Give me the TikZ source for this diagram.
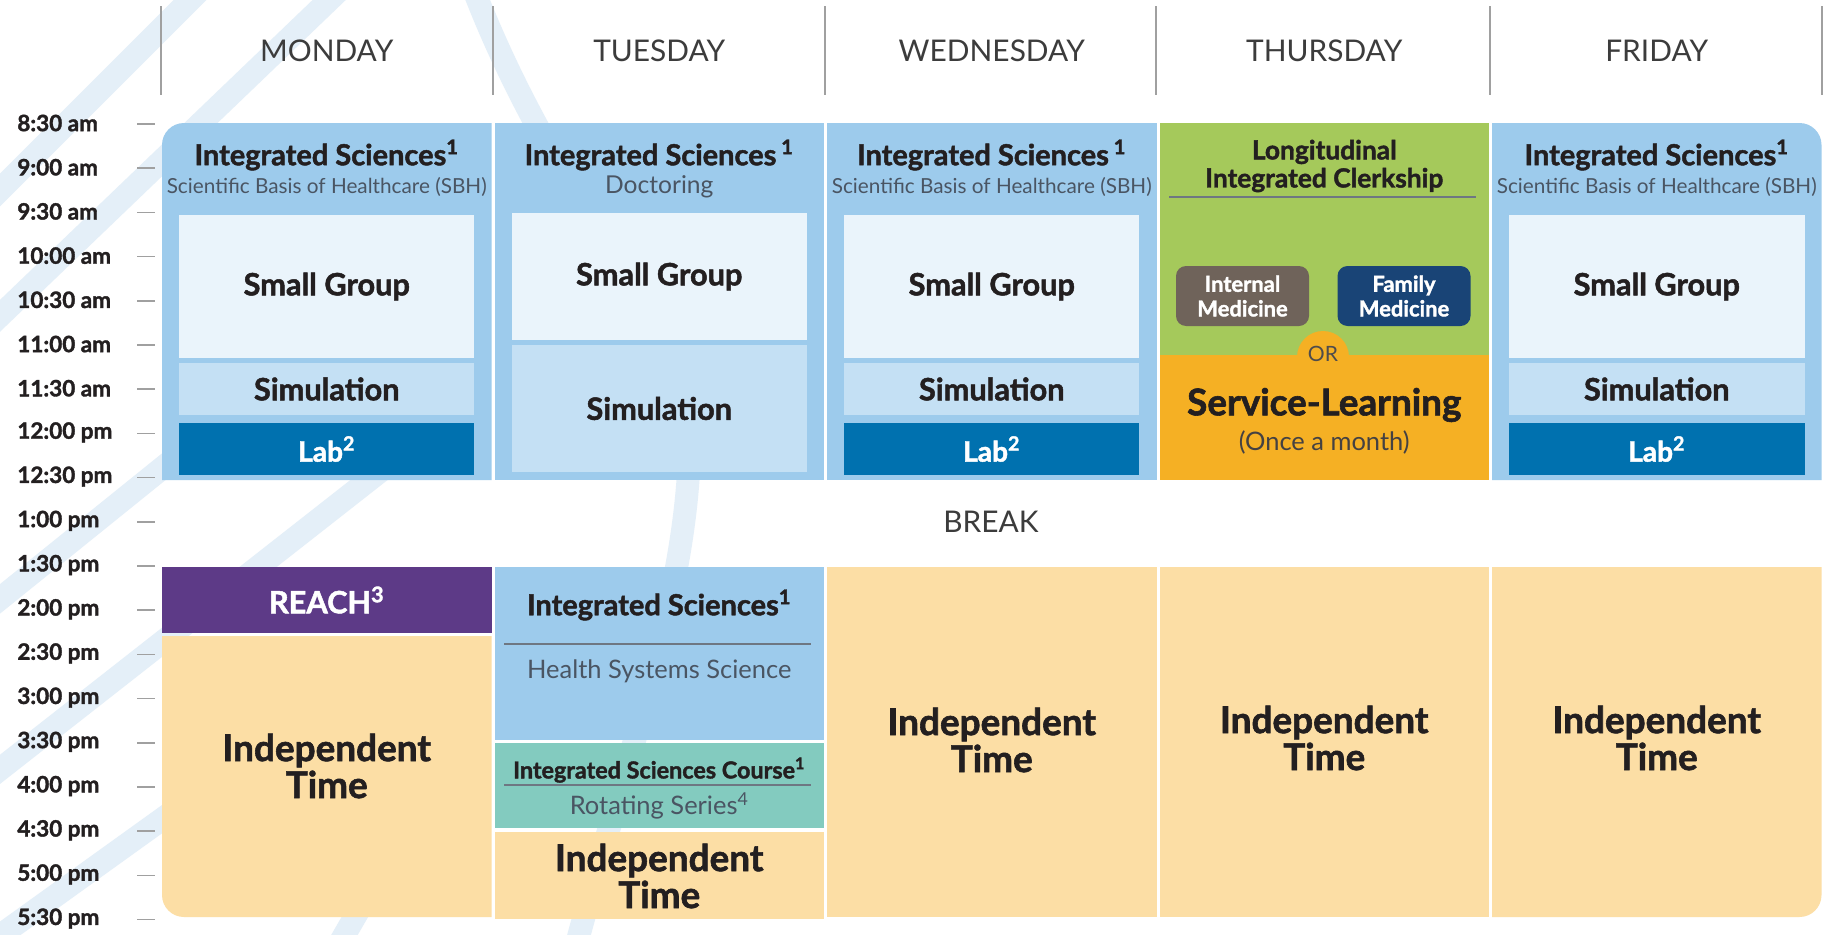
\documentclass[tikz,border=0pt]{standalone}
\usepackage{fontspec}
\setmainfont{Lato}[BoldFeatures={FakeBold=1.6}]
\usepackage{xcolor}
\usetikzlibrary{positioning}

\definecolor{sbhblue}{HTML}{9DCBEC}
\definecolor{groupblue}{HTML}{EAF4FB}
\definecolor{simblue}{HTML}{C4E0F4}
\definecolor{labblue}{HTML}{0071AF}
\definecolor{licgreen}{HTML}{A5C95B}
\definecolor{serviceorange}{HTML}{F5B024}
\definecolor{imgray}{HTML}{6F635A}
\definecolor{fmnavy}{HTML}{194476}
\definecolor{reachpurple}{HTML}{5D3A87}
\definecolor{indepbeige}{HTML}{FCDEA5}
\definecolor{courseteal}{HTML}{83CBBF}
\definecolor{inkdark}{HTML}{231F20}
\definecolor{subgray}{HTML}{4A5563}
\definecolor{daygray}{HTML}{3C3C3C}
\definecolor{tickgray}{HTML}{A0A0A0}
\definecolor{swoosh}{HTML}{E4EFF8}

\begin{document}
\begin{tikzpicture}[x=0.02cm, y=-0.02cm]
    \tikzstyle{daylabel}=[font=\fontsize{17}{20}\selectfont, text=daygray]
    \tikzstyle{dayline}=[line width=0.9pt, draw=tickgray]
    \tikzstyle{timelabel}=[anchor=west, inner sep=0, font=\bfseries\fontsize{12.8}{14}\selectfont, text=inkdark]
    \tikzstyle{tick}=[line width=0.9pt, draw=tickgray]
    \tikzstyle{swooshline}=[line width=0.46cm, draw=swoosh]
    \tikzstyle{coursetitle}=[inner sep=0, font=\bfseries\fontsize{16.5}{19}\selectfont, text=inkdark]
    \tikzstyle{coursesub}=[inner sep=0, font=\fontsize{11.8}{13}\selectfont, text=subgray]
    \tikzstyle{slotbox}=[
      inner sep=0,
      minimum width=5.91cm,
      font=\bfseries\fontsize{17.5}{20}\selectfont,
      text=inkdark,
    ]
    \tikzstyle{groupbox}=[slotbox, fill=groupblue, minimum height=2.86cm]
    \tikzstyle{simbox}=[slotbox, fill=simblue, minimum height=1.04cm]
    \tikzstyle{labbox}=[slotbox, fill=labblue, minimum height=1.04cm, text=white, font=\bfseries\fontsize{16}{18}\selectfont]
    \tikzstyle{clerkbox}=[
      inner sep=0,
      rounded corners=0.2cm,
      minimum width=2.66cm,
      minimum height=1.2cm,
      align=center,
      text=white,
      font=\bfseries\fontsize{12.5}{14}\selectfont,
    ]
    \tikzstyle{indeptext}=[inner sep=0, align=center, font=\bfseries\fontsize{21}{21}\selectfont, text=inkdark]
    \tikzstyle{rule}=[line width=1.2pt, draw=subgray!80]

    \useasboundingbox (0,0) rectangle (1824,934);
    \fill[white] (0,0) rectangle (1824,934);

    % background swooshes
    {
      \draw[swooshline] (-20,210) -- (210,-20);
      \draw[swooshline] (-20,335) -- (350,-20);
      \draw[swooshline] (-20,615) -- (420,260);
      \draw[swooshline] (-20,785) -- (420,440);
      \draw[swooshline] (-20,950) -- (300,720);
      \draw[swooshline] (330,960) -- (480,700);
      \draw[swooshline] (470,-20) .. controls (560,220) and (700,330) .. (688,480) .. controls (678,620) and (620,780) .. (575,950);
    }

    % day headers
    {
      \draw[dayline] (161,6) -- (161,95);
      \draw[dayline] (493,6) -- (493,95);
      \draw[dayline] (825,6) -- (825,95);
      \draw[dayline] (1156,6) -- (1156,95);
      \draw[dayline] (1490,6) -- (1490,95);
      \draw[dayline] (1822,6) -- (1822,95);

      \node[daylabel] (mon) at (326.75,51) {MONDAY};
      \node[daylabel] (tue) at (659.25,51) {TUESDAY};
      \node[daylabel] (wed) at (991.75,51) {WEDNESDAY};
      \node[daylabel] (thu) at (1324.25,51) {THURSDAY};
      \node[daylabel] (fri) at (1656.75,51) {FRIDAY};
    }

    % time axis
    {
      \node[timelabel] (t0830) at (17,123.0) {8:30 am};
      \node[timelabel] (t0900) at (17,167.2) {9:00 am};
      \node[timelabel] (t0930) at (17,211.4) {9:30 am};
      \node[timelabel] (t1000) at (17,255.6) {10:00 am};
      \node[timelabel] (t1030) at (17,299.8) {10:30 am};
      \node[timelabel] (t1100) at (17,344.0) {11:00 am};
      \node[timelabel] (t1130) at (17,388.2) {11:30 am};
      \node[timelabel] (t1200) at (17,432.4) {12:00 pm};
      \node[timelabel] (t1230) at (17,476.6) {12:30 pm};
      \node[timelabel] (t1300) at (17,520.8) {1:00 pm};
      \node[timelabel] (t1330) at (17,565.0) {1:30 pm};
      \node[timelabel] (t1400) at (17,609.2) {2:00 pm};
      \node[timelabel] (t1430) at (17,653.4) {2:30 pm};
      \node[timelabel] (t1500) at (17,697.6) {3:00 pm};
      \node[timelabel] (t1530) at (17,741.8) {3:30 pm};
      \node[timelabel] (t1600) at (17,786.0) {4:00 pm};
      \node[timelabel] (t1630) at (17,830.2) {4:30 pm};
      \node[timelabel] (t1700) at (17,874.4) {5:00 pm};
      \node[timelabel] (t1730) at (17,918.6) {5:30 pm};

      \draw[tick] (137,124.0) -- (155,124.0);
      \draw[tick] (137,168.2) -- (155,168.2);
      \draw[tick] (137,212.4) -- (155,212.4);
      \draw[tick] (137,256.6) -- (155,256.6);
      \draw[tick] (137,300.8) -- (155,300.8);
      \draw[tick] (137,345.0) -- (155,345.0);
      \draw[tick] (137,389.2) -- (155,389.2);
      \draw[tick] (137,433.4) -- (155,433.4);
      \draw[tick] (137,477.6) -- (155,477.6);
      \draw[tick] (137,521.8) -- (155,521.8);
      \draw[tick] (137,566.0) -- (155,566.0);
      \draw[tick] (137,610.2) -- (155,610.2);
      \draw[tick] (137,654.4) -- (155,654.4);
      \draw[tick] (137,698.6) -- (155,698.6);
      \draw[tick] (137,742.8) -- (155,742.8);
      \draw[tick] (137,787.0) -- (155,787.0);
      \draw[tick] (137,831.2) -- (155,831.2);
      \draw[tick] (137,875.4) -- (155,875.4);
      \draw[tick] (137,919.6) -- (155,919.6);
    }

    % monday morning
    {
      \fill[sbhblue] (162,480) -- (162,145) arc[start angle=180, end angle=270, radius=22] -- (491.5,123) -- (491.5,480) -- cycle;
      \node[coursetitle] (monTitle) at (326.75,155) {Integrated Sciences\textsuperscript{1}};
      \node[coursesub] (monSub) at (326.75,187) {Scientific Basis of Healthcare (SBH)};
      \node[groupbox] (monGroup) at (326.75,286.5) {Small Group};
      \node[simbox] (monSim) at (326.75,389) {Simulation};
      \node[labbox] (monLab) at (326.75,449) {Lab\textsuperscript{2}};
    }

    % tuesday morning
    {
      \fill[sbhblue] (494.5,123) rectangle (824,480);
      \node[coursetitle] (tueTitle) at (659.25,155) {Integrated Sciences\,\textsuperscript{1}};
      \node[coursesub, font=\fontsize{14}{16}\selectfont] (tueSub) at (659.25,187) {Doctoring};
      \node[groupbox, minimum height=2.54cm] (tueGroup) at (659.25,276.5) {Small Group};
      \node[simbox, minimum height=2.54cm] (tueSim) at (659.25,408.5) {Simulation};
    }

    % wednesday morning
    {
      \fill[sbhblue] (827,123) rectangle (1156.5,480);
      \node[coursetitle] (wedTitle) at (991.75,155) {Integrated Sciences\,\textsuperscript{1}};
      \node[coursesub] (wedSub) at (991.75,187) {Scientific Basis of Healthcare (SBH)};
      \node[groupbox] (wedGroup) at (991.75,286.5) {Small Group};
      \node[simbox] (wedSim) at (991.75,389) {Simulation};
      \node[labbox] (wedLab) at (991.75,449) {Lab\textsuperscript{2}};
    }

    % thursday morning
    {
      \fill[licgreen] (1159.5,123) rectangle (1489,355);
      \fill[serviceorange] (1159.5,355) rectangle (1489,480);
      \fill[serviceorange] (1323,357) circle[radius=26];
      \node[inner sep=0, align=center, font=\bfseries\fontsize{15}{16}\selectfont, text=inkdark] (licTitle) at (1324.25,166) {Longitudinal\\Integrated Clerkship};
      \draw[rule] (1169,197) -- (1476,197);
      \node[clerkbox, fill=imgray] (licIM) at (1242.5,296) {Internal\\Medicine};
      \node[clerkbox, fill=fmnavy] (licFM) at (1404,296) {Family\\Medicine};
      \node[inner sep=0, font=\fontsize{12}{13}\selectfont, text=inkdark!80] (licOr) at (1323,354) {OR};
      \node[inner sep=0, font=\bfseries\fontsize{21}{23}\selectfont, text=inkdark] (service) at (1324.25,405) {Service-Learning};
      \node[inner sep=0, font=\fontsize{14.5}{16}\selectfont, text=inkdark!85] (serviceNote) at (1324.25,442) {(Once a month)};
    }

    % friday morning
    {
      \fill[sbhblue] (1492,480) -- (1492,123) -- (1799.5,123) arc[start angle=270, end angle=360, radius=22] -- (1821.5,480) -- cycle;
      \node[coursetitle] (friTitle) at (1656.75,155) {Integrated Sciences\textsuperscript{1}};
      \node[coursesub] (friSub) at (1656.75,187) {Scientific Basis of Healthcare (SBH)};
      \node[groupbox] (friGroup) at (1656.75,286.5) {Small Group};
      \node[simbox] (friSim) at (1656.75,389) {Simulation};
      \node[labbox] (friLab) at (1656.75,449) {Lab\textsuperscript{2}};
    }

    % break
    {
      \node[daylabel] (break) at (991,522) {BREAK};
    }

    % monday afternoon
    {
      \fill[reachpurple] (162,567) rectangle (491.5,633);
      \node[inner sep=0, font=\bfseries\fontsize{17.5}{20}\selectfont, text=white] (reach) at (326.75,600) {REACH\textsuperscript{3}};
      \fill[indepbeige] (162,636) -- (491.5,636) -- (491.5,917) -- (184,917) arc[start angle=90, end angle=180, radius=22] -- cycle;
      \node[indeptext] (monIndep) at (326.75,766) {Independent\\Time};
    }

    % tuesday afternoon
    {
      \fill[sbhblue] (494.5,567) rectangle (824,740);
      \node[coursetitle] (tueHssTitle) at (659.25,605) {Integrated Sciences\textsuperscript{1}};
      \draw[rule] (504,644) -- (811,644);
      \node[coursesub, font=\fontsize{14.5}{16}\selectfont] (tueHss) at (659.25,671) {Health Systems Science};
      \fill[courseteal] (494.5,743) rectangle (824,828);
      \node[inner sep=0, font=\bfseries\fontsize{13.3}{15}\selectfont, text=inkdark] (tueCourse) at (659.25,770) {Integrated Sciences Course\textsuperscript{1}};
      \draw[rule] (504,785) -- (811,785);
      \node[coursesub, font=\fontsize{14.5}{16}\selectfont] (tueRotate) at (659.25,806) {Rotating Series\textsuperscript{4}};
      \fill[indepbeige] (494.5,832) rectangle (824,919);
      \node[indeptext] (tueIndep) at (659.25,876) {Independent\\Time};
    }

    % wednesday to friday afternoon
    {
      \fill[indepbeige] (827,567) rectangle (1156.5,917);
      \node[indeptext] (wedIndep) at (991.75,740) {Independent\\Time};
      \fill[indepbeige] (1159.5,567) rectangle (1489,917);
      \node[indeptext] (thuIndep) at (1324.25,738) {Independent\\Time};
      \fill[indepbeige] (1492,567) -- (1821.5,567) -- (1821.5,895) arc[start angle=0, end angle=90, radius=22] -- (1492,917) -- cycle;
      \node[indeptext] (friIndep) at (1656.75,738) {Independent\\Time};
    }
\end{tikzpicture}
\end{document}
